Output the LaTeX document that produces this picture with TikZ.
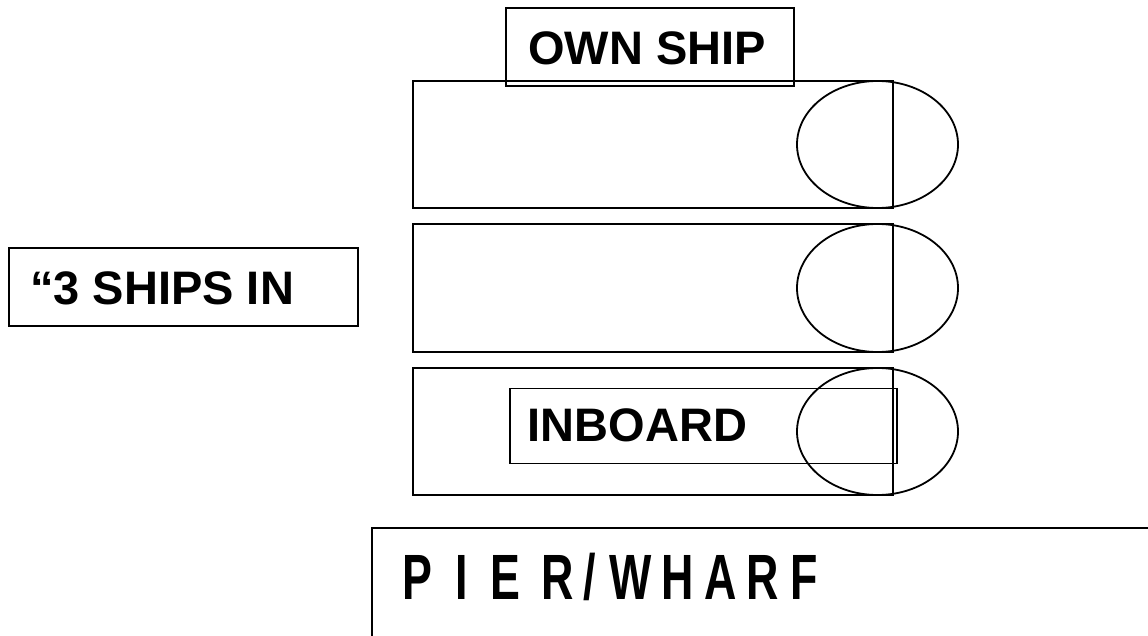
\documentclass[tikz,border=0pt]{standalone}
\usepackage{fontspec}
\setmainfont{Liberation Sans}
\newfontfamily\pierfont{Liberation Sans}[FakeStretch=0.7]
\usetikzlibrary{shapes.geometric}
\tikzset{
  hull/.style={draw, rectangle, line width=1.8pt, inner sep=0pt},
  bow/.style={draw, ellipse, line width=1.8pt, inner sep=0pt},
  tag/.style={draw, rectangle, line width=1.8pt, inner sep=0pt},
  lbl/.style={inner sep=0pt, font=\bfseries\fontsize{47pt}{56pt}\selectfont},
  pierlbl/.style={inner sep=0pt, font=\pierfont\bfseries\fontsize{64pt}{72pt}\selectfont},
  pierline/.style={draw, line width=1.8pt}
}
\begin{document}
\begin{tikzpicture}[x=1pt, y=-1pt]
\useasboundingbox (0,0) rectangle (1148,636);
\clip (0,0) rectangle (1148,636);
% ships
\node[hull, minimum width=480pt, minimum height=127pt] (ship1) at (653,144.5) {};
\node[bow, minimum width=161pt, minimum height=127pt] (bow1) at (877.5,144.5) {};
\node[hull, minimum width=480pt, minimum height=128pt] (ship2) at (653,288) {};
\node[bow, minimum width=161pt, minimum height=128pt] (bow2) at (877.5,288) {};
\node[hull, minimum width=480pt, minimum height=127pt] (ship3) at (653,431.5) {};
\node[bow, minimum width=161pt, minimum height=127pt] (bow3) at (877.5,431.5) {};
% own ship tag
\node[tag, minimum width=288pt, minimum height=78pt] (ownbox) at (650,47) {};
\node[lbl, anchor=base] (ownlbl) at (647,65) {OWN SHIP};
% 3 ships in tag
\node[tag, minimum width=349pt, minimum height=78pt] (threebox) at (183.5,287) {};
\node[lbl, anchor=base west] (threelbl) at (30,304) {“3 SHIPS IN};
% inboard tag
\node[tag, minimum width=387pt, minimum height=75pt] (inbox) at (703.5,426) {};
\node[lbl, anchor=base west] (inlbl) at (527.6,441) {INBOARD};
% pier
\coordinate (pierNE) at (1160,528);
\coordinate (pierSW) at (372,650);
\draw[pierline] (pierNE) -| (pierSW);
\node[pierlbl, anchor=base west] (pierlbl) at (402.6,599) {P\kern23pt I\kern22pt E\kern22pt R\kern9.5pt/\kern13.5pt W\kern9pt H\kern11pt A\kern10pt R\kern11pt F};
\end{tikzpicture}
\end{document}
